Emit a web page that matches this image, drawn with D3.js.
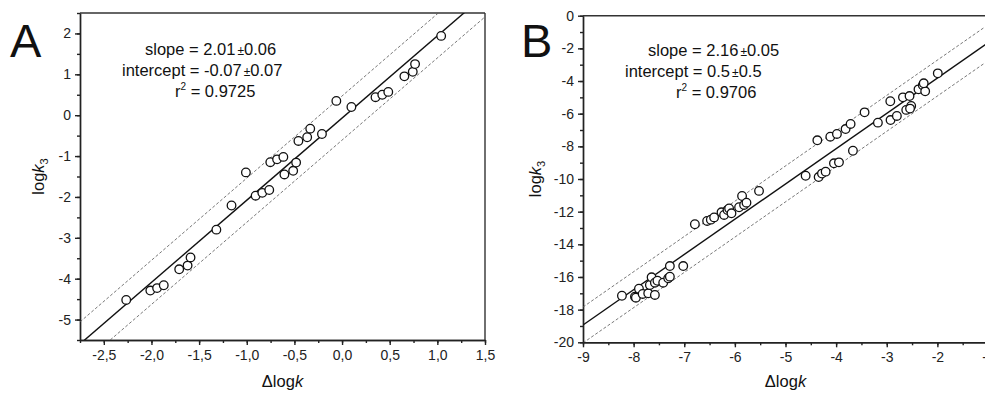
<!DOCTYPE html>
<html>
<head>
<meta charset="utf-8">
<script src="https://cdn.jsdelivr.net/npm/d3@7"></script>
<style>
  body { margin: 0; background: #fff; }
  svg { display: block; font-family: "Liberation Sans", Arial, sans-serif; }
  .axis path, .axis line { stroke: #222; stroke-width: 1.4; }
  .axis text { font-size: 14px; fill: #222; }
</style>
</head>
<body>
<svg id="chart" width="985" height="394"></svg>
<script>
// panel A data
var aX = [-2.265, -2.012, -1.941, -1.871, -1.709, -1.621, -1.590, -1.319, -1.160, -1.009,
          -0.907, -0.837, -0.764, -0.753, -0.682, -0.616, -0.605, -0.513, -0.482, -0.458,
          -0.366, -0.334, -0.211, -0.060, 0.098, 0.351, 0.422, 0.485, 0.654, 0.742, 0.766, 1.040];
var aY = [-4.52, -4.29, -4.23, -4.16, -3.77, -3.68, -3.48, -2.80, -2.21, -1.40,
          -1.97, -1.90, -1.83, -1.15, -1.08, -1.02, -1.45, -1.36, -1.16, -0.63,
          -0.54, -0.33, -0.46, 0.35, 0.20, 0.44, 0.50, 0.57, 0.95, 1.06, 1.25, 1.94];
var aFit = {slope: 2.01, intercept: -0.07, band: 0.54};
var aText = ["slope = 2.01", "±", "0.06", "intercept = -0.07", "±", "0.07", "0.9725"];

// panel B data
var bX = [-8.231, -7.974, -7.955, -7.895, -7.822, -7.712, -7.580, -7.679, -7.645, -7.580,
          -7.530, -7.416, -7.317, -7.284, -7.284, -7.020, -6.790, -6.548, -6.475, -6.410,
          -6.264, -6.213, -6.146, -6.114, -6.067, -5.917, -5.858, -5.818, -5.771, -5.523,
          -4.602, -4.345, -4.280, -4.207, -4.043, -3.944, -3.668, -4.371, -4.115, -3.984,
          -3.813, -3.714, -3.438, -3.175, -2.925, -2.800, -2.930, -2.680, -2.550, -2.615,
          -2.517, -2.540, -2.373, -2.288, -2.241, -2.270, -1.992];
var bY = [-17.15, -17.21, -17.27, -16.72, -17.04, -17.00, -17.10, -16.49, -16.02, -16.35,
          -16.23, -16.35, -16.08, -15.98, -15.33, -15.33, -12.77, -12.57, -12.49, -12.35,
          -12.04, -12.20, -11.90, -11.80, -12.10, -11.73, -11.04, -11.59, -11.45, -10.73,
          -9.80, -9.88, -9.67, -9.55, -9.04, -8.98, -8.27, -7.63, -7.41, -7.24,
          -6.94, -6.63, -5.92, -6.55, -6.39, -6.14, -5.24, -5.00, -4.92, -5.77,
          -5.53, -5.69, -4.51, -4.26, -4.63, -4.14, -3.53];
var bFit = {slope: 2.16, intercept: 0.5, band: 1.1};
var bText = ["slope = 2.16", "±", "0.05", "intercept = 0.5", "±", "0.5", "0.9706"];

var aXTicks = [-2.5, -2.0, -1.5, -1.0, -0.5, 0.0, 0.5, 1.0, 1.5];
var aYTicks = [2, 1, 0, -1, -2, -3, -4, -5];
var bXTicks = [-9, -8, -7, -6, -5, -4, -3, -2, -1];
var bYTicks = [0, -2, -4, -6, -8, -10, -12, -14, -16, -18, -20];

var svg = d3.select("#chart");

function panel(opt) {
  var x = d3.scaleLinear().domain(opt.xDom).range([opt.left, opt.right]);
  var y = d3.scaleLinear().domain(opt.yDom).range([opt.bottom, opt.top]);
  var g = svg.append("g");

  g.append("clipPath").attr("id", opt.id + "clip")
    .append("rect").attr("x", opt.left).attr("y", opt.top)
    .attr("width", opt.right - opt.left).attr("height", opt.bottom - opt.top);

  // minor ticks
  g.append("g").attr("class", "axis").attr("transform", "translate(0," + opt.bottom + ")")
    .call(d3.axisBottom(x).tickValues(opt.xMinor).tickSize(3).tickSizeOuter(0).tickFormat(""));
  g.append("g").attr("class", "axis").attr("transform", "translate(" + opt.left + ",0)")
    .call(d3.axisLeft(y).tickValues(opt.yMinor).tickSize(3).tickSizeOuter(0).tickFormat(""));

  // major ticks
  g.append("g").attr("class", "axis").attr("transform", "translate(0," + opt.bottom + ")")
    .call(d3.axisBottom(x).tickValues(opt.xTicks).tickSize(5).tickSizeOuter(0).tickPadding(5).tickFormat(opt.xFmt));
  var ya = g.append("g").attr("class", "axis").attr("transform", "translate(" + opt.left + ",0)")
    .call(d3.axisLeft(y).tickValues(opt.yTicks).tickSize(5).tickSizeOuter(0).tickPadding(4));
  ya.selectAll("text").text(function (d) { return String(d); });

  // top and right frame
  g.append("line").attr("x1", opt.left).attr("x2", opt.right).attr("y1", opt.top).attr("y2", opt.top)
    .attr("stroke", "#333").attr("stroke-width", 1.6);
  g.append("line").attr("x1", opt.right).attr("x2", opt.right).attr("y1", opt.top).attr("y2", opt.bottom)
    .attr("stroke", "#333").attr("stroke-width", 1.4);

  // fit and bands
  var f = opt.fit;
  var lines = [
    {off: 0, dash: null, w: 1.4, c: "#111"},
    {off: f.band, dash: "3,2", w: 0.8, c: "#555"},
    {off: -f.band, dash: "3,2", w: 0.8, c: "#555"}
  ];
  var lg = g.append("g").attr("clip-path", "url(#" + opt.id + "clip)");
  lines.forEach(function (l) {
    var pts = opt.xDom.map(function (v) { return [v, f.slope * v + f.intercept + l.off]; });
    lg.append("path").datum(pts)
      .attr("d", d3.line().x(function (d) { return x(d[0]); }).y(function (d) { return y(d[1]); }))
      .attr("fill", "none").attr("stroke", l.c).attr("stroke-width", l.w)
      .attr("stroke-dasharray", l.dash);
  });

  // points
  g.append("g").selectAll("circle").data(opt.xs.map(function (v, i) { return [v, opt.ys[i]]; }))
    .enter().append("circle")
    .attr("cx", function (d) { return x(d[0]); })
    .attr("cy", function (d) { return y(d[1]); })
    .attr("r", 4.3).attr("fill", "#fff").attr("stroke", "#111").attr("stroke-width", 1.3);

  // annotation
  var t = opt.text, tx = opt.tx, fs = 16.5;
  var t1 = g.append("text").attr("x", tx[0]).attr("y", opt.ty).attr("font-size", fs).attr("fill", "#111");
  t1.append("tspan").text(t[0]);
  t1.append("tspan").attr("font-size", 12).attr("dx", 2).text(t[1]);
  t1.append("tspan").text(t[2]);
  var t2 = g.append("text").attr("x", tx[1]).attr("y", opt.ty + 21).attr("font-size", fs).attr("fill", "#111");
  t2.append("tspan").text(t[3]);
  t2.append("tspan").attr("font-size", 12).attr("dx", 2).text(t[4]);
  t2.append("tspan").text(t[5]);
  var t3 = g.append("text").attr("x", tx[2]).attr("y", opt.ty + 42).attr("font-size", fs).attr("fill", "#111");
  t3.append("tspan").text("r");
  t3.append("tspan").attr("font-size", 10).attr("dy", -7).text("2");
  t3.append("tspan").attr("dy", 7).text(" = " + t[6]);

  // panel letter
  g.append("text").attr("x", opt.letterX).attr("y", 57).attr("font-size", 47).attr("fill", "#111").text(opt.letter);

  // axis titles
  var xt = g.append("text").attr("x", (opt.left + opt.right) / 2).attr("y", 387)
    .attr("text-anchor", "middle").attr("font-size", 16.5).attr("fill", "#111");
  xt.append("tspan").text("Δlog");
  xt.append("tspan").attr("font-style", "italic").text("k");

  var cy = (opt.top + opt.bottom) / 2;
  var yt = g.append("text").attr("transform", "translate(" + opt.yLabX + "," + cy + ") rotate(-90)")
    .attr("text-anchor", "middle").attr("font-size", 16.5).attr("fill", "#111");
  yt.append("tspan").text("log");
  yt.append("tspan").attr("font-style", "italic").text("k");
  yt.append("tspan").attr("font-size", 11).attr("dy", 4).text("3");
}

panel({
  id: "a", letter: "A", letterX: 10,
  left: 80, right: 485, top: 13, bottom: 340,
  xDom: [-2.75, 1.5], yDom: [-5.5, 2.5],
  xTicks: aXTicks, yTicks: aYTicks,
  xMinor: d3.range(-2.75, 1.51, 0.25), yMinor: d3.range(-5.5, 2.51, 0.5),
  xFmt: function (d) { return d.toFixed(1).replace(".", ","); },
  fit: aFit, xs: aX, ys: aY, text: aText,
  tx: [145, 122, 175], ty: 55, yLabX: 44
});

panel({
  id: "b", letter: "B", letterX: 521,
  left: 583, right: 988, top: 15.7, bottom: 342.3,
  xDom: [-9, -1], yDom: [-20, 0],
  xTicks: bXTicks, yTicks: bYTicks,
  xMinor: d3.range(-9, -0.99, 0.5), yMinor: d3.range(-20, 0.01, 1),
  xFmt: function (d) { return String(d); },
  fit: bFit, xs: bX, ys: bY, text: bText,
  tx: [648, 625, 676], ty: 56, yLabX: 541
});
</script>
</body>
</html>
